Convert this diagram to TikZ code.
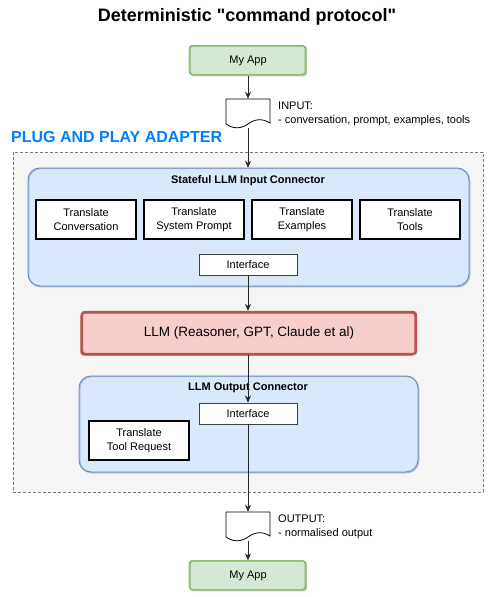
\documentclass[tikz,border=0pt]{standalone}
\usepackage{fontspec}
\setmainfont{Liberation Sans}
\usetikzlibrary{arrows.meta,shadows,positioning}
\definecolor{gfill}{HTML}{D5E8D4}
\definecolor{gline}{HTML}{82B366}
\definecolor{bfill}{HTML}{DAE8FC}
\definecolor{bline}{HTML}{6C8EBF}
\definecolor{rfill}{HTML}{F8CECC}
\definecolor{rline}{HTML}{B85450}
\definecolor{cfill}{HTML}{F5F5F5}
\definecolor{cline}{HTML}{7A7A7A}
\definecolor{plugblue}{HTML}{007FFF}
\tikzset{
  txt/.style={font=\fontsize{11}{13.5}\selectfont, inner sep=0pt, align=center},
  appbox/.style={txt, draw=gline, fill=gfill, line width=1.3pt, rounded corners=3pt,
     minimum width=116pt, minimum height=29pt,
     drop shadow={shadow xshift=1pt,shadow yshift=-2pt,opacity=0.18},
     postaction={draw=gline, line width=0.6pt, transform canvas={xshift=-1pt,yshift=0.7pt}}},
  tbox/.style={txt, draw=black, fill=white, line width=1.6pt, minimum width=100pt, minimum height=39pt},
  ibox/.style={txt, draw=black!75, fill=white, line width=0.9pt, minimum width=98pt, minimum height=21pt},
  connbox/.style={draw=bline, fill=bfill, line width=1pt, rounded corners=12pt,
     drop shadow={shadow xshift=1pt,shadow yshift=-2pt,opacity=0.15},
     postaction={draw=bline, line width=0.5pt, opacity=0.6, transform canvas={xshift=1pt,yshift=-0.8pt}}},
  llmbox/.style={draw=rline, fill=rfill, line width=2.4pt, rounded corners=3pt,
     minimum width=334pt, minimum height=42pt, inner sep=0pt,
     font=\fontsize{13.5}{16}\selectfont,
     drop shadow={shadow xshift=1pt,shadow yshift=-2pt,opacity=0.18},
     postaction={draw=rline, line width=1pt, transform canvas={xshift=-1.2pt,yshift=-1pt}}},
  doc/.style={draw=none, minimum width=44pt, minimum height=29pt, inner sep=0pt},
  docline/.style={draw=black, line width=0.8pt, fill=white},
  arr/.style={draw=black!85, line width=1pt, -{Stealth[length=7pt,width=6pt]}},
  title/.style={font=\fontsize{11}{13}\selectfont\bfseries, inner sep=0pt}
}
\newcommand{\DocOutline}[1]{%
  \begin{scope}[shift={(0,#1)}]
    \path[docline] (226,0) -- (270,0) -- (270,24)
      .. controls (262,19) and (255,20) .. (248,25)
      .. controls (241,30) and (233,30) .. (226,25) -- cycle;
  \end{scope}}
\begin{document}
\begin{tikzpicture}[x=1pt,y=-1pt]
\useasboundingbox (0,0) rectangle (496,597);
\fill[white] (0,0) rectangle (496,597);

\node[font=\fontsize{18}{22}\selectfont\bfseries, inner sep=0pt] (ttl) at (247,17) {Deterministic \textquotedbl command protocol\textquotedbl};

\node[appbox] (app1) at (248,60.5) {My App};

\DocOutline{99}
\node[doc] (doc1) at (248,113.5) {};
\node[txt, align=left, anchor=west, font=\fontsize{11}{14}\selectfont] (intxt) at (278,114) {INPUT:\\- conversation, prompt, examples, tools};

\node[font=\fontsize{16}{19}\selectfont\bfseries, text=plugblue, anchor=west, inner sep=0pt] (plug) at (11,137) {PLUG AND PLAY ADAPTER};

\path[draw=cline, fill=cfill, line width=0.9pt, dash pattern=on 3pt off 2pt] (13,152) rectangle (483,492);
\node[draw=none, minimum width=470pt, minimum height=340pt, inner sep=0pt] (adapter) at (248,322) {};

% input connector
\path[connbox] (28,168) rectangle (469,286);
\node[minimum width=441pt, minimum height=118pt, inner sep=0pt] (inconn) at (248.5,227) {};
\node[title] (intitle) at (248,181) {Stateful LLM Input Connector};
\node[tbox] (t1) at (86,219.5) {Translate\\Conversation};
\node[tbox] (t2) at (194,219.5) {Translate\\System Prompt};
\node[tbox] (t3) at (302,219.5) {Translate\\Examples};
\node[tbox] (t4) at (410,219.5) {Translate\\Tools};
\node[ibox] (if1) at (248,264.5) {Interface};

% LLM
\node[llmbox] (llm) at (249,333) {LLM (Reasoner, GPT, Claude et al)};

% output connector
\path[connbox] (79,376) rectangle (418,472);
\node[minimum width=339pt, minimum height=96pt, inner sep=0pt] (outconn) at (248.5,424) {};
\node[title] (outtitle) at (248,388) {LLM Output Connector};
\node[ibox] (if2) at (248,413.5) {Interface};
\node[tbox] (ttr) at (139,440.5) {Translate\\Tool Request};

\DocOutline{512}
\node[doc] (doc2) at (248,526.5) {};
\node[txt, align=left, anchor=west, font=\fontsize{11}{14}\selectfont] (outtxt) at (278,527) {OUTPUT:\\- normalised output};

\node[appbox] (app2) at (248,575.5) {My App};

% connectors
\draw[arr] (app1.south) -- (doc1.north);
\draw[arr] (doc1.south) -- (inconn.north -| doc1.south);
\draw[arr] (if1.south) -- (llm.north -| if1.south);
\draw[arr] (llm.south -| if2.north) -- (if2.north);
\draw[arr] (if2.south) -- (doc2.north);
\draw[arr] (doc2.south) -- (app2.north);
\end{tikzpicture}
\end{document}
